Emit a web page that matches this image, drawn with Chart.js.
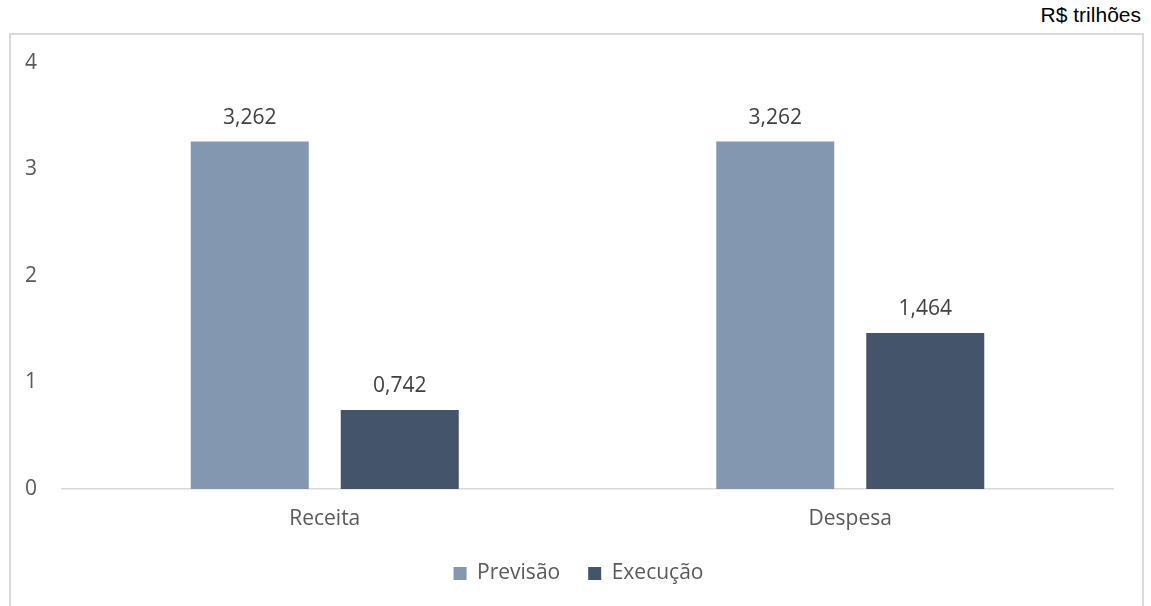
<!DOCTYPE html>
<html>
<head>
<meta charset="utf-8">
<script src="https://cdn.jsdelivr.net/npm/chart.js@4/dist/chart.umd.min.js"></script>
<style>
  html, body { margin:0; padding:0; background:#fff; }
  #wrap { position:relative; width:1151px; height:606px; overflow:hidden; }
  #frame { position:absolute; left:9px; top:33px; width:1131px; height:600px; border:2px solid #d9d9d9; box-sizing:content-box; }
  #unit { position:absolute; right:10px; top:3px; font-family:"Liberation Sans", Arial, sans-serif; font-size:21px; color:#000; }
  #c { position:absolute; left:0; top:0; }
</style>
</head>
<body>
<div id="wrap">
  <div id="frame"></div>
  <div id="unit">R$ trilhões</div>
  <canvas id="c" width="1151" height="606"></canvas>
</div>
<script>
const categories = ['Receita', 'Despesa'];
const previsao = [3.262, 3.262];
const execucao = [0.742, 1.464];
const seriesNames = ['Previsão', 'Execução'];
const yTicks = [0, 1, 2, 3, 4];

const FONT = '"Open Sans", sans-serif';

const labelPlugin = {
  id: 'valueLabels',
  afterDatasetsDraw(chart) {
    const ctx = chart.ctx;
    ctx.save();
    ctx.font = '21px ' + FONT;
    ctx.fillStyle = '#404040';
    ctx.textAlign = 'center';
    ctx.textBaseline = 'alphabetic';
    chart.data.datasets.forEach((ds, i) => {
      const meta = chart.getDatasetMeta(i);
      meta.data.forEach((bar, j) => {
        const txt = ds.data[j].toFixed(3).replace('.', ',');
        ctx.fillText(txt, bar.x, bar.y - 18);
      });
    });
    ctx.restore();
  }
};

new Chart(document.getElementById('c'), {
  type: 'bar',
  data: {
    labels: categories,
    datasets: [
      { label: seriesNames[0], data: previsao, backgroundColor: '#8497b0', borderWidth: 0,
        categoryPercentage: 0.5709, barPercentage: 0.7867 },
      { label: seriesNames[1], data: execucao, backgroundColor: '#44546a', borderWidth: 0,
        categoryPercentage: 0.5709, barPercentage: 0.7867 }
    ]
  },
  options: {
    responsive: false,
    animation: false,
    devicePixelRatio: 1,
    layout: { padding: { top: 63, left: 22, right: 16, bottom: 12 } },
    plugins: {
      tooltip: { enabled: false },
      legend: {
        position: 'bottom',
        labels: {
          boxWidth: 13, boxHeight: 13, padding: 28,
          color: '#595959',
          font: { family: FONT, size: 21 }
        }
      }
    },
    scales: {
      y: {
        min: 0, max: 4,
        afterFit(s) { s.width = 40; },
        afterBuildTicks(s) { s.ticks = yTicks.map(v => ({ value: v })); },
        grid: { display: false, drawTicks: false },
        border: { display: false },
        ticks: { padding: 25, color: '#595959', font: { family: FONT, size: 21 } }
      },
      yRight: {
        position: 'right',
        display: true,
        afterFit(s) { s.width = 22; },
        grid: { display: false, drawTicks: false },
        border: { display: false },
        ticks: { display: false }
      },
      x: {
        afterFit(s) { s.height = 46; },
        grid: { display: false, drawTicks: false },
        border: { display: true, color: '#d9d9d9', width: 1.5 },
        ticks: { padding: 17, color: '#595959', font: { family: FONT, size: 21 } }
      }
    }
  },
  plugins: [labelPlugin]
});
</script>
</body>
</html>
